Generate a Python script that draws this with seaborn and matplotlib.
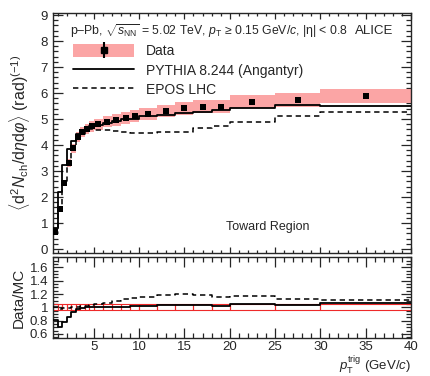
import numpy as np
import pandas as pd
import matplotlib
matplotlib.use("Agg")
import matplotlib.pyplot as plt
import seaborn as sns
from matplotlib.patches import Patch
from matplotlib.lines import Line2D
from matplotlib.legend_handler import HandlerTuple
from matplotlib.ticker import MultipleLocator, FuncFormatter

# ---------------- data ----------------
bin_edges = [0.5, 1, 1.5, 2, 2.5, 3, 3.5, 4, 4.5, 5, 6, 7, 8, 9, 10, 12, 14, 16, 18, 20, 25, 30, 40]
data_vals = [0.65, 1.55, 2.55, 3.30, 3.88, 4.30, 4.50, 4.62, 4.73, 4.80, 4.90, 4.96, 5.04, 5.10,
             5.20, 5.30, 5.41, 5.48, 5.48, 5.67, 5.73, 5.88]
data_stat = [0.04, 0.04, 0.04, 0.04, 0.03, 0.03, 0.03, 0.03, 0.03, 0.03, 0.03, 0.03, 0.03, 0.03,
             0.03, 0.04, 0.04, 0.05, 0.05, 0.05, 0.06, 0.07]
data_syst_rel = [0.045] * 22
pythia_vals = [0.80, 2.18, 3.25, 3.83, 4.17, 4.43, 4.55, 4.62, 4.72, 4.78, 4.85, 4.91, 4.99, 5.00,
               5.10, 5.15, 5.22, 5.28, 5.35, 5.42, 5.53, 5.50]
epos_vals = [0.66, 1.60, 2.60, 3.33, 3.88, 4.25, 4.43, 4.53, 4.60, 4.57, 4.58, 4.55, 4.50, 4.47,
             4.48, 4.49, 4.51, 4.64, 4.73, 4.87, 5.11, 5.29]
ratio_pythia = [0.81, 0.71, 0.78, 0.86, 0.93, 0.97, 0.99, 1.00, 1.00, 1.005, 1.01, 1.01, 1.01, 1.02,
                1.02, 1.03, 1.036, 1.04, 1.024, 1.046, 1.036, 1.07]
ratio_epos = [1.00, 0.975, 0.985, 0.99, 1.00, 1.01, 1.015, 1.02, 1.03, 1.05, 1.07, 1.09, 1.12, 1.14,
              1.16, 1.18, 1.20, 1.18, 1.16, 1.165, 1.12, 1.11]

edges = np.array(bin_edges)
centers = 0.5 * (edges[:-1] + edges[1:])
widths = np.diff(edges)
dv = np.array(data_vals)
syst = dv * np.array(data_syst_rel)


def step_frame(vals):
    return pd.DataFrame({"x": edges, "y": list(vals) + [vals[-1]]})


# ---------------- style ----------------
sns.set_theme(style="ticks")
plt.rcParams["font.family"] = ["Liberation Sans", "DejaVu Sans"]
plt.rcParams["mathtext.fontset"] = "custom"
plt.rcParams["mathtext.rm"] = "Liberation Sans"
plt.rcParams["mathtext.it"] = "Liberation Sans:italic"
plt.rcParams["mathtext.bf"] = "Liberation Sans:bold"
plt.rcParams["axes.linewidth"] = 1.0

fig = plt.figure(figsize=(4.31, 3.76), dpi=100)
L, R = 53 / 431, 411 / 431
ax = fig.add_axes([L, 1 - 253 / 376, R - L, (253 - 12.7) / 376])
axr = fig.add_axes([L, 1 - 338.3 / 376, R - L, (338.3 - 256.7) / 376])

band_color = "#fba5a5"

# ---------------- top panel ----------------
ax.bar(centers, 2 * syst, bottom=dv - syst, width=widths, color=band_color, edgecolor="none", zorder=1)
sns.lineplot(data=step_frame(pythia_vals), x="x", y="y", ax=ax, drawstyle="steps-post",
             color="black", lw=1.3, zorder=3, legend=False)
sns.lineplot(data=step_frame(epos_vals), x="x", y="y", ax=ax, drawstyle="steps-post",
             color="black", lw=1.1, ls=(0, (3.5, 2.5)), zorder=3, legend=False)
ax.errorbar(centers, dv, yerr=data_stat, fmt="none", ecolor="black", elinewidth=1.2, zorder=4)
sns.scatterplot(x=centers, y=dv, ax=ax, marker="s", color="black", s=24, linewidth=0, zorder=5)

ax.set_xlim(0.5, 40)
ax.set_ylim(-0.15, 9.09)
ax.set_xlabel("")
ax.set_ylabel(r"$\langle$d$^{2}$$N_{\rm ch}$/d$\eta$d$\varphi\rangle$ (rad)$^{(-1)}$", fontsize=11.5, labelpad=6)
ax.yaxis.set_major_locator(MultipleLocator(1))
ax.yaxis.set_minor_locator(MultipleLocator(0.2))
ax.xaxis.set_major_locator(MultipleLocator(5))
ax.xaxis.set_minor_locator(MultipleLocator(1))
ax.tick_params(axis="x", which="both", labelbottom=False)
ax.tick_params(which="both", direction="in", top=True, right=True, width=0.9, labelsize=9.5)
ax.tick_params(axis="y", which="major", length=7)
ax.tick_params(axis="y", which="minor", length=3.5)
ax.tick_params(axis="x", which="major", length=4.5)
ax.tick_params(axis="x", which="minor", length=2.5)

ax.text(0.047, 0.925, r"p–Pb, $\sqrt{s_{\rm NN}}$ = 5.02 TeV, $p_{\rm T}$ ≥ 0.15 GeV/$c$, |η| < 0.8",
        transform=ax.transAxes, fontsize=8.8, ha="left", va="center")
ax.text(0.952, 0.925, "ALICE", transform=ax.transAxes, fontsize=9.5, ha="right", va="center")
ax.text(0.60, 0.11, "Toward Region", transform=ax.transAxes, fontsize=9, ha="center", va="center")

h_data = (Patch(facecolor=band_color, edgecolor="none"),
          Line2D([], [], marker="|", color="black", ls="none", markersize=11, mew=1.5),
          Line2D([], [], marker="s", color="black", ls="none", markersize=4.8))
h_py = Line2D([], [], color="black", lw=1.3)
h_ep = Line2D([], [], color="black", lw=1.1, ls=(0, (3.5, 2.5)))
ax.legend([h_data, h_py, h_ep], ["Data", "PYTHIA 8.244 (Angantyr)", "EPOS LHC"],
          handler_map={tuple: HandlerTuple(ndivide=1, pad=0)},
          loc="upper left", bbox_to_anchor=(0.056, 0.868), frameon=False, fontsize=10,
          handlelength=4.4, handleheight=1.0, handletextpad=0.85, labelspacing=0.38,
          borderpad=0, borderaxespad=0)

# ---------------- ratio panel ----------------
rs = np.array(data_syst_rel)
axr.bar(centers, 2 * rs, bottom=1 - rs, width=widths, fill=False, edgecolor="#ee2a2a", linewidth=0.8, zorder=1)
sns.lineplot(data=step_frame(ratio_pythia), x="x", y="y", ax=axr, drawstyle="steps-post",
             color="black", lw=1.3, zorder=3, legend=False)
sns.lineplot(data=step_frame(ratio_epos), x="x", y="y", ax=axr, drawstyle="steps-post",
             color="black", lw=1.1, ls=(0, (3.5, 2.5)), zorder=3, legend=False)
axr.set_xlim(0.5, 40)
axr.set_ylim(0.535, 1.76)
axr.yaxis.set_major_locator(MultipleLocator(0.2))
axr.yaxis.set_minor_locator(MultipleLocator(0.05))
axr.yaxis.set_major_formatter(FuncFormatter(lambda v, p: f"{v:.1f}".rstrip("0").rstrip(".")))
axr.xaxis.set_major_locator(MultipleLocator(5))
axr.xaxis.set_minor_locator(MultipleLocator(1))
axr.tick_params(which="both", direction="in", top=True, right=True, width=0.9, labelsize=9.5)
axr.tick_params(axis="x", which="major", pad=2.2)
axr.tick_params(axis="y", which="major", length=7)
axr.tick_params(axis="y", which="minor", length=3.5)
axr.tick_params(axis="x", which="major", length=7)
axr.tick_params(axis="x", which="minor", length=3.5)
axr.set_ylabel("Data/MC", fontsize=11, labelpad=3)
axr.set_xlabel(r"$p_{\rm T}^{\rm trig}$ (GeV/$c$)", fontsize=9.5)
axr.xaxis.set_label_coords(1.0, -0.19)
axr.xaxis.label.set_ha("right")
axr.xaxis.label.set_va("top")

fig.savefig("out.png", dpi=100)
